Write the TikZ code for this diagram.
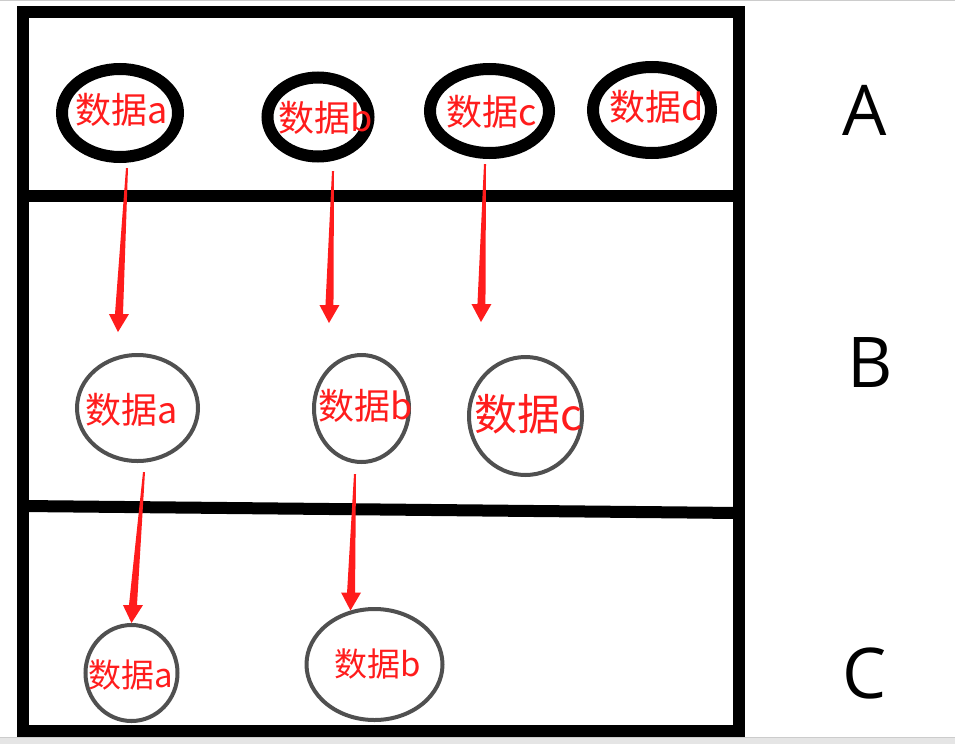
\documentclass[tikz,border=0pt]{standalone}
\usepackage{fontspec}
\newfontfamily\cjk{Noto Sans CJK SC}
\newfontfamily\lettersf{Open Sans}
\usetikzlibrary{shapes.geometric,calc}
\definecolor{arrowred}{RGB}{255,28,28}
\definecolor{ringgray}{RGB}{80,80,80}

\tikzset{
  bigring/.style={draw=black, line width=12pt, ellipse, inner sep=0pt},
  thinring/.style={draw=ringgray, line width=4pt, ellipse, inner sep=0pt},
  datum/.style={text=arrowred, inner sep=0pt, font=\cjk\fontsize{36}{36}\selectfont},
  level/.style={inner sep=0pt, font=\lettersf\fontsize{70}{70}\selectfont},
}

% tapered red arrow from #1 (tail) to #2 (tip)
\newcommand\flowarrow[2]{%
  \fill[arrowred] ($(#1)+(-1,0)$) -- ($(#1)+(1,0)$)
    -- ($(#2)!18pt!(#1)+(4,0)$) -- ($(#2)!18pt!(#1)+(10,0)$) -- (#2)
    -- ($(#2)!18pt!(#1)+(-10,0)$) -- ($(#2)!18pt!(#1)+(-4,0)$) -- cycle;}

\begin{document}
\begin{tikzpicture}[x=1pt,y=-1pt]
    \useasboundingbox (0,0) rectangle (955,744);
    % screen edges
    \draw[gray!40] (0,0.5) -- (955,0.5);
    \fill[gray!20] (0,737) rectangle (955,744);
    \draw[gray!40] (0,737) -- (955,737);

    % frame and dividers
    \draw[line width=12pt] (23,12) rectangle (739,731);
    \draw[line width=12pt] (23,196) -- (739,196);
    \draw[line width=12pt] (23,506) -- (739,513);

    % level A
    \node[bigring, minimum width=116pt, minimum height=88pt] (ta) at (120,113) {};
    \node[bigring, minimum width=101pt, minimum height=79pt] (tb) at (318,117) {};
    \node[bigring, minimum width=119pt, minimum height=84pt] (tc) at (489.5,111) {};
    \node[bigring, minimum width=118pt, minimum height=86pt] (td) at (652,110) {};
    \node[datum] (ta-t) at (122,110) {数据a};
    \node[datum] (tb-t) at (326,118) {数据b};
    \node[datum] (tc-t) at (492,112) {数据c};
    \node[datum] (td-t) at (657,107) {数据d};

    % level B
    \node[thinring, minimum width=121pt, minimum height=106pt] (ma) at (137.5,408) {};
    \node[thinring, minimum width=95pt, minimum height=107pt] (mb) at (361.5,408.5) {};
    \node[thinring, minimum width=113pt, minimum height=118pt] (mc) at (525.5,416) {};
    \node[datum] (ma-t) at (131.5,409.5) {数据a};
    \node[datum] (mb-t) at (366,405.5) {数据b};
    \node[datum, font=\cjk\fontsize{43}{43}\selectfont] (mc-t) at (528,414) {数据c};

    % level C
    \node[thinring, minimum width=92pt, minimum height=96pt] (ca) at (131.5,673) {};
    \node[thinring, minimum width=136pt, minimum height=111pt] (cb) at (374.5,664.5) {};
    \node[datum, font=\cjk\fontsize{33}{33}\selectfont] (ca-t) at (131,675) {数据a};
    \node[datum, font=\cjk\fontsize{33}{33}\selectfont] (cb-t) at (378,663.5) {数据b};

    % level letters
    \node[level] (la) at (865,110) {A};
    \node[level] (lb) at (870,362.5) {B};
    \node[level] (lc) at (865,673.5) {C};

    % arrows
    \coordinate (ta-out) at (127,168);
    \coordinate (tb-out) at (333,171);
    \coordinate (tc-out) at (485,164);
    \coordinate (ma-in) at (118,332);
    \coordinate (mb-in) at (329,323);
    \coordinate (mc-in) at (481,322);
    \coordinate (ma-out) at (144,472);
    \coordinate (mb-out) at (355,474);
    \flowarrow{ta-out}{ma-in}
    \flowarrow{tb-out}{mb-in}
    \flowarrow{tc-out}{mc-in}
    \flowarrow{ma-out}{ca.north}
    \flowarrow{mb-out}{cb.114}
\end{tikzpicture}
\end{document}
